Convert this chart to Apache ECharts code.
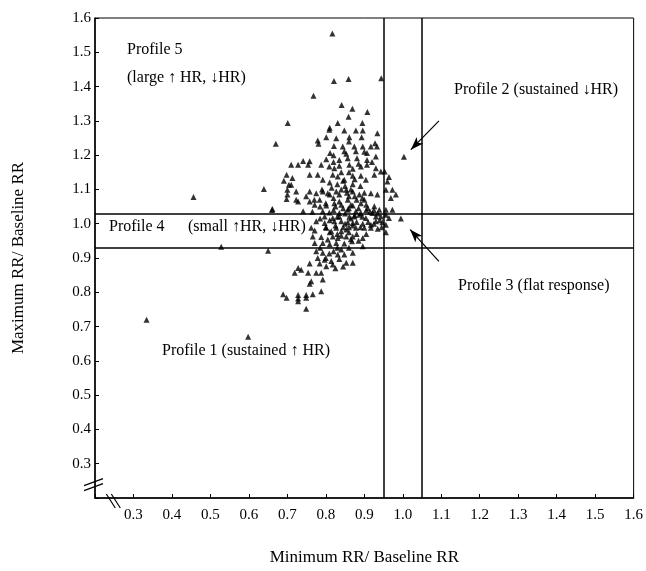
<!DOCTYPE html>
<html>
<head>
<meta charset="utf-8">
<script src="https://cdn.jsdelivr.net/npm/echarts@6/dist/echarts.min.js"></script>
<style>
  html, body { margin: 0; padding: 0; background: #fff; }
  #main { width: 646px; height: 571px; }
</style>
</head>
<body>
<div id="main"></div>
<script>
// ===== data =====
// [min RR / baseline RR, max RR / baseline RR]
var points = [
  [0.817,1.555],[0.821,1.416],[0.768,1.373],[0.701,1.294],[0.670,1.233],[0.456,1.078],[0.639,1.101],
  [0.334,0.720],[0.528,0.933],[0.598,0.670],[0.650,0.921],[0.660,1.040],[1.003,1.195],[0.944,1.424],
  [0.859,1.422],[0.841,1.346],[0.869,1.335],[0.908,1.326],[0.859,1.312],[0.831,1.294],[0.895,1.294],
  [0.810,1.280],[0.661,1.043],
  [0.809,1.274],[0.848,1.272],[0.878,1.272],[0.896,1.272],[0.934,1.264],[0.779,1.243],[0.781,1.233],
  [0.801,1.252],[0.827,1.249],[0.861,1.252],[0.893,1.252],[0.821,1.227],[0.844,1.225],[0.874,1.225],
  [0.896,1.225],[0.917,1.225],[0.928,1.235],[0.933,1.225],[0.811,1.206],[0.848,1.211],[0.853,1.204],
  [0.878,1.211],[0.907,1.206],[0.801,1.188],[0.835,1.186],[0.857,1.191],[0.881,1.191],[0.907,1.186],
  [0.930,1.196],[0.710,1.172],[0.728,1.172],[0.741,1.183],[0.758,1.182],[0.754,1.172],[0.788,1.172],
  [0.809,1.167],[0.822,1.162],[0.835,1.169],[0.861,1.172],[0.891,1.167],[0.907,1.172],[0.930,1.162],
  [0.943,1.152],[0.953,1.152],[0.698,1.143],[0.713,1.133],[0.691,1.125],[0.704,1.114],[0.710,1.114],
  [0.758,1.143],[0.779,1.143],[0.792,1.128],[0.818,1.143],[0.831,1.138],[0.848,1.128],[0.870,1.140],
  [0.891,1.140],[0.904,1.128],[0.926,1.143],[0.964,1.136],[0.960,1.123],[0.700,1.099],[0.700,1.085],
  [0.723,1.094],[0.749,1.080],[0.758,1.094],[0.775,1.089],[0.792,1.094],[0.805,1.089],[0.827,1.094],
  [0.853,1.099],[0.870,1.094],[0.887,1.085],[0.917,1.089],[0.934,1.085],[0.956,1.099],[0.973,1.099],
  [0.982,1.085],[0.969,1.075],[0.698,1.072],[0.723,1.070],[0.728,1.065],[0.758,1.065],[0.771,1.055],
  [0.784,1.070],[0.801,1.053],[0.822,1.060],[0.835,1.065],[0.857,1.070],[0.870,1.053],[0.891,1.060],
  [0.900,1.070],[0.909,1.046],[0.926,1.051],[0.939,1.041],[0.956,1.041],[0.973,1.041],[0.741,1.036],
  [0.792,1.036],[0.809,1.033],[0.835,1.031],[0.857,1.041],[0.878,1.036],[0.891,1.031],[0.921,1.031],
  [0.797,1.021],[0.818,1.017],[0.835,1.021],[0.861,1.020],[0.874,1.021],[0.887,1.026],[0.904,1.017],
  [0.930,1.021],[0.943,1.021],[0.956,1.026],[0.964,1.017],[0.995,1.015],[0.775,1.007],[0.797,1.002],
  [0.822,1.007],[0.840,1.007],[0.857,1.004],[0.870,1.002],[0.896,1.000],[0.917,0.997],[0.930,1.007],
  [0.947,1.004],[0.956,0.997],[0.762,0.988],[0.771,0.980],[0.801,0.988],[0.814,0.978],[0.827,0.988],
  [0.840,0.978],[0.853,0.983],[0.878,0.988],[0.900,0.988],[0.917,0.988],[0.956,0.975],[0.766,0.963],
  [0.788,0.961],[0.805,0.954],[0.818,0.963],[0.831,0.958],[0.853,0.963],[0.870,0.963],[0.896,0.958],
  [0.896,0.934],[0.771,0.944],[0.792,0.944],[0.827,0.944],[0.848,0.942],[0.868,0.949],[0.775,0.920],
  [0.792,0.915],[0.809,0.913],[0.831,0.910],[0.848,0.910],[0.870,0.915],[0.779,0.900],[0.797,0.895],
  [0.814,0.891],[0.835,0.897],[0.758,0.884],[0.784,0.884],[0.801,0.876],[0.818,0.881],[0.853,0.886],
  [0.870,0.886],[0.728,0.871],[0.736,0.866],[0.719,0.857],[0.754,0.857],[0.775,0.857],[0.788,0.857],
  [0.762,0.832],[0.758,0.825],[0.792,0.837],[0.689,0.794],[0.698,0.784],[0.728,0.792],[0.728,0.782],
  [0.728,0.774],[0.749,0.792],[0.749,0.784],[0.766,0.794],[0.788,0.803],[0.749,0.752],
  [0.81,1.12],[0.83,1.115],[0.85,1.11],[0.87,1.115],[0.89,1.11],[0.84,1.10],[0.86,1.08],[0.88,1.07],
  [0.90,1.09],[0.82,1.075],[0.80,1.06],[0.845,1.045],[0.865,1.055],[0.885,1.045],[0.905,1.055],
  [0.915,1.035],[0.935,1.03],[0.85,1.03],[0.82,1.04],[0.81,1.01],[0.83,1.02],[0.85,1.00],[0.865,1.015],
  [0.88,1.005],[0.895,1.02],[0.91,1.005],[0.925,1.00],[0.94,1.01],[0.945,0.99],[0.86,0.99],[0.84,0.965],
  [0.86,0.975],[0.88,0.97],[0.905,0.97],[0.82,0.92],[0.84,0.925],[0.86,0.93],[0.80,0.90],[0.825,0.87],
  [0.845,0.875],[0.87,1.16],[0.92,1.18],[0.90,1.21],[0.86,1.24],[0.84,1.15],[0.82,1.18],[0.79,1.10],
  [0.77,1.07],
  [0.815,1.105],[0.835,1.085],[0.855,1.09],[0.875,1.08],[0.895,1.075],[0.865,1.10],[0.845,1.125],
  [0.875,1.13],[0.825,1.05],[0.84,1.055],[0.86,1.045],[0.875,1.025],[0.905,1.04],[0.925,1.04],
  [0.825,0.995],[0.845,0.99],[0.87,0.995],[0.89,0.99],[0.935,0.985],[0.81,0.975],[0.83,0.97],
  [0.865,0.955],[0.885,0.95],[0.81,0.94],[0.83,0.93],[0.785,0.93],[0.80,0.99],[0.785,1.015],
  [0.81,1.085],[0.785,1.05],[0.765,1.035],[0.86,1.15],[0.885,1.175],[0.82,1.20]
];
var cutX = [0.955, 1.053];   // vertical boundaries
var cutY = [0.93, 1.03];     // horizontal boundaries
var axisMin = 0.2, axisMax = 1.6, axisStep = 0.1;
// arrows: [from, to]
var arrows = [
  [[1.094, 1.300], [1.021, 1.216]],
  [[1.094, 0.890], [1.019, 0.983]]
];

var FONT = '"Liberation Serif", "DejaVu Serif", serif';
var chart = echarts.init(document.getElementById('main'));

function tickLabel(v) {
  return v < axisMin + 0.05 ? '' : v.toFixed(1);
}

var markLines = [];
cutX.forEach(function (v) { markLines.push({ xAxis: v }); });
cutY.forEach(function (v) { markLines.push({ yAxis: v }); });

var arrowLines = arrows.map(function (a) {
  return [{ coord: a[0], symbol: 'none' }, { coord: a[1], symbol: 'arrow', symbolSize: [7, 13] }];
});

var txt = function (str, left, top) {
  return { type: 'text', left: left, top: top, style: { text: str, font: '16px ' + FONT, fill: '#000' } };
};

var option = {
  backgroundColor: '#fff',
  animation: false,
  grid: {
    left: 95, right: 9, top: 18, bottom: 72,
    show: true, borderColor: '#000', borderWidth: 1
  },
  xAxis: {
    type: 'value', min: axisMin, max: axisMax, interval: axisStep,
    name: 'Minimum RR/ Baseline RR', nameLocation: 'middle', nameGap: 51,
    nameTextStyle: { fontFamily: FONT, fontSize: 17, color: '#000' },
    axisLine: { lineStyle: { color: '#000', width: 1.5 } },
    axisTick: { inside: true, length: 4, lineStyle: { color: '#000' } },
    axisLabel: { formatter: tickLabel, fontFamily: FONT, fontSize: 15, color: '#000', margin: 10 },
    splitLine: { show: false }
  },
  yAxis: {
    type: 'value', min: axisMin, max: axisMax, interval: axisStep,
    name: 'Maximum RR/ Baseline RR', nameLocation: 'middle', nameGap: 68,
    nameTextStyle: { fontFamily: FONT, fontSize: 17, color: '#000' },
    axisLine: { lineStyle: { color: '#000', width: 1.5 } },
    axisTick: { inside: true, length: 4, lineStyle: { color: '#000' } },
    axisLabel: { formatter: tickLabel, fontFamily: FONT, fontSize: 15, color: '#000', margin: 4 },
    splitLine: { show: false }
  },
  series: [
    {
      type: 'scatter',
      symbol: 'triangle',
      symbolSize: 6,
      itemStyle: { color: '#000' },
      data: points,
      markLine: {
        silent: true, symbol: 'none', label: { show: false },
        lineStyle: { color: '#000', width: 1.5, type: 'solid' },
        data: markLines
      }
    },
    {
      type: 'lines',
      coordinateSystem: 'cartesian2d',
      data: [],
      markLine: {
        silent: true, label: { show: false },
        lineStyle: { color: '#000', width: 1.2, type: 'solid' },
        itemStyle: { color: '#000' },
        data: arrowLines
      }
    }
  ],
  graphic: [
    txt('Profile 5', 127, 42),
    txt('(large \u2191 HR, \u2193HR)', 127, 70),
    txt('Profile 2 (sustained \u2193HR)', 454, 82),
    txt('Profile 4', 109, 219),
    txt('(small \u2191HR, \u2193HR)', 188, 219),
    txt('Profile 3 (flat response)', 458, 278),
    txt('Profile 1 (sustained \u2191 HR)', 162, 343)
  ]
};
chart.setOption(option);

// axis break marks near the origin
var py = chart.convertToPixel({ gridIndex: 0 }, [axisMin, 0.245]);
var px = chart.convertToPixel({ gridIndex: 0 }, [0.245, axisMin]);
var brk = { stroke: '#000', lineWidth: 1.2 };
chart.setOption({
  graphic: option.graphic.concat([
    { type: 'line', shape: { x1: py[0] - 11, y1: py[1] + 3, x2: py[0] + 8, y2: py[1] - 4 }, style: brk },
    { type: 'line', shape: { x1: py[0] - 11, y1: py[1] + 8, x2: py[0] + 8, y2: py[1] + 1 }, style: brk },
    { type: 'line', shape: { x1: px[0] - 6, y1: px[1] - 4, x2: px[0] + 3, y2: px[1] + 10 }, style: brk },
    { type: 'line', shape: { x1: px[0] - 1, y1: px[1] - 4, x2: px[0] + 8, y2: px[1] + 10 }, style: brk }
  ])
});
</script>
</body>
</html>
